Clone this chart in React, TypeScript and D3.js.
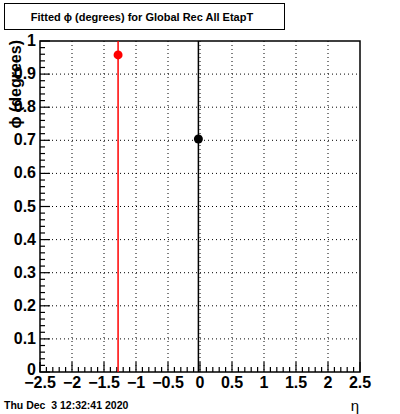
import React from "react";
import * as d3 from "d3";

const etaValues = [-1.28, -0.025];
const phiValues = [0.958, 0.704];
const pointColors = ["#ff0000", "#000000"];
const xTicks = [-2.5, -2, -1.5, -1, -0.5, 0, 0.5, 1, 1.5, 2, 2.5];
const yTicks = [0, 0.1, 0.2, 0.3, 0.4, 0.5, 0.6, 0.7, 0.8, 0.9, 1];

const W = 400, H = 414;
const L = 40, R = 360, T = 41, B = 372;

export default function App() {
  const x = d3.scaleLinear().domain([-2.5, 2.5]).range([L, R]);
  const y = d3.scaleLinear().domain([0, 1]).range([B, T]);
  const xMinor = d3.range(-2.5, 2.5001, 0.1);
  const yMinor = d3.range(0, 1.0001, 0.02);
  const font = "'Liberation Sans', Arial, sans-serif";
  const fmt = (v: number) => (v < 0 ? "\u2212" + Math.abs(v) : String(v));
  return (
    <svg width={W} height={H} style={{ position: "absolute", left: 0, top: 0, background: "#fff" }}>
      <rect x={0} y={0} width={W} height={H} fill="#fff" />
      {/* title box */}
      <rect x={4.5} y={3.5} width={280} height={26} fill="#fff" stroke="#000" strokeWidth={1} />
      <text x={142} y={21} textAnchor="middle" fontFamily={font} fontWeight="bold" fontSize={11}>
        Fitted ϕ (degrees) for Global Rec All EtapT
      </text>
      {/* grid */}
      {xTicks.slice(1, -1).map((t) => (
        <line key={"gx" + t} x1={x(t)} x2={x(t)} y1={T} y2={B} stroke="#000" strokeWidth={1} strokeDasharray="1,3" />
      ))}
      {yTicks.slice(1, -1).map((t) => (
        <line key={"gy" + t} x1={L} x2={R} y1={y(t)} y2={y(t)} stroke="#000" strokeWidth={1} strokeDasharray="1,3" />
      ))}
      {/* frame */}
      <rect x={L} y={T} width={R - L} height={B - T} fill="none" stroke="#000" strokeWidth={1.5} />
      {/* minor / major ticks */}
      {xMinor.map((t, i) => (
        <line key={"tx" + i} x1={x(t)} x2={x(t)} y1={B} y2={B - (i % 5 === 0 ? 10 : 5)} stroke="#000" strokeWidth={1.2} />
      ))}
      {yMinor.map((t, i) => (
        <line key={"ty" + i} x1={L} x2={L + (i % 5 === 0 ? 10 : 5)} y1={y(t)} y2={y(t)} stroke="#000" strokeWidth={1.2} />
      ))}
      {/* tick labels */}
      {xTicks.map((t) => (
        <text key={"lx" + t} x={x(t)} y={388} textAnchor="middle" fontFamily={font} fontWeight="bold" fontSize={16}>
          {fmt(t)}
        </text>
      ))}
      {yTicks.map((t) => (
        <text key={"ly" + t} x={36} y={y(t) + (t === 0 ? 3 : 5)} textAnchor="end" fontFamily={font} fontWeight="bold" fontSize={16}>
          {String(t)}
        </text>
      ))}
      {/* axis titles */}
      <text transform={`translate(21,${T - 1}) rotate(-90)`} textAnchor="end" fontFamily={font} fontWeight="bold" fontSize={16}>
        ϕ (degrees)
      </text>
      <text x={359} y={411} textAnchor="end" fontFamily={font} fontSize={15}>η</text>
      <text x={4} y={409} fontFamily={font} fontWeight="bold" fontSize={10.5} style={{ whiteSpace: "pre" }}>
        Thu Dec  3 12:32:41 2020
      </text>
      {/* data */}
      {etaValues.map((e, i) => (
        <g key={"p" + i}>
          <line x1={x(e)} x2={x(e)} y1={T} y2={B} stroke={pointColors[i]} strokeWidth={1.5} />
          <circle cx={x(e)} cy={y(phiValues[i])} r={4.5} fill={pointColors[i]} />
        </g>
      ))}
    </svg>
  );
}
